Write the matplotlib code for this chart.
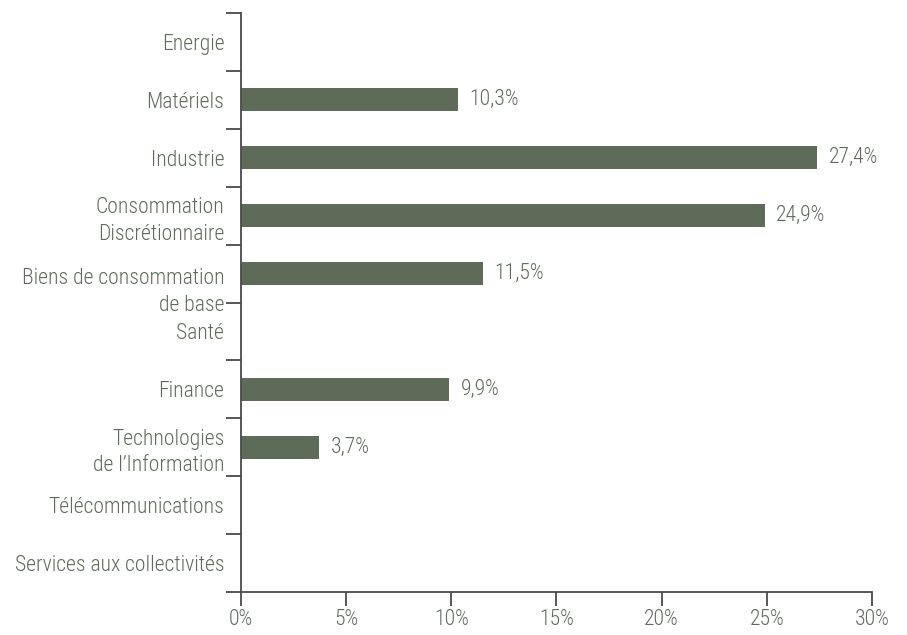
"""Répartition sectorielle - barres horizontales."""

import numpy as np
import matplotlib
matplotlib.use("Agg")
import matplotlib.pyplot as plt
from matplotlib import transforms

SECTORS = [
    "Energie",
    "Matériels",
    "Industrie",
    "Consommation\nDiscrétionnaire",
    "Biens de consommation\nde base",
    "Santé",
    "Finance",
    "Technologies\nde l’Information",
    "Télécommunications",
    "Services aux collectivités",
]
WEIGHTS = [0.0, 10.3, 27.4, 24.9, 11.5, 0.0, 9.9, 3.7, 0.0, 0.0]
XTICKS = [0, 5, 10, 15, 20, 25, 30]

BAR_COLOR = "#5d6b58"
TEXT_COLOR = "#5f6b5a"
AXIS_COLOR = "#4a4a4a"

plt.rcParams.update({
    "font.family": ["Roboto Condensed", "Liberation Sans", "DejaVu Sans"],
    "font.weight": "light",
    "font.size": 15.6,
})

fig = plt.figure(figsize=(9.07, 6.35), dpi=100)
ax = fig.add_axes([0.2657, 0.0677, 0.6957, 0.9118])

n = len(SECTORS)
y = np.arange(n) + 0.5
ax.barh(y, WEIGHTS, height=0.4, color=BAR_COLOR)
for yi, w in zip(y, WEIGHTS):
    if w > 0:
        ax.text(w + 0.55, yi, f"{w:.1f}%".replace(".", ","), va="center", ha="left",
                color=TEXT_COLOR)

ax.set_ylim(n, 0)
ax.set_xlim(0, 30)

# category labels centred, tick marks on the boundaries
ax.set_yticks(y)
ax.set_yticklabels(SECTORS, color=TEXT_COLOR, linespacing=1.35, ha="right")
ax.set_yticks(np.arange(n + 1), minor=True)
ax.tick_params(axis="y", which="major", length=0, pad=12)
ax.tick_params(axis="y", which="minor", length=11, width=1.3, color=AXIS_COLOR)

# the "Biens de consommation" label sits lower in the original
lbl = ax.get_yticklabels()[4]
lbl.set_transform(lbl.get_transform() + transforms.ScaledTranslation(0, -13 / 100, fig.dpi_scale_trans))

ax.set_xticks(XTICKS)
ax.set_xticklabels([f"{t}%" for t in XTICKS], color=TEXT_COLOR)
ax.tick_params(axis="x", length=10, width=1.3, color=AXIS_COLOR, pad=2)

for side in ("top", "right"):
    ax.spines[side].set_visible(False)
for side in ("left", "bottom"):
    ax.spines[side].set_color(AXIS_COLOR)
    ax.spines[side].set_linewidth(1.3)

fig.savefig("out.png", dpi=100)
